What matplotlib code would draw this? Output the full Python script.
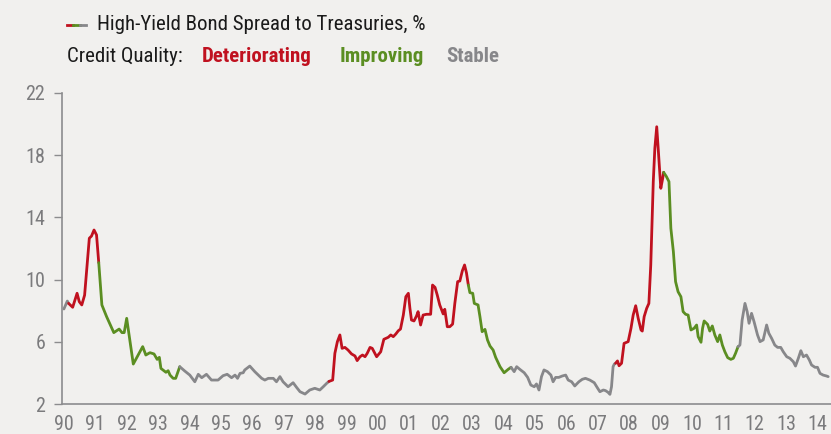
import matplotlib
matplotlib.use("Agg")
import matplotlib.pyplot as plt
from matplotlib.lines import Line2D
import numpy as np

# high-yield spread (decimal year, %)
dates = [
    1990.00, 1990.11, 1990.15, 1990.28, 1990.42, 1990.49, 1990.57, 1990.66, 1990.81, 1990.88,
    1990.96, 1991.04, 1991.11, 1991.21, 1991.36, 1991.59, 1991.76, 1991.85, 1991.92, 1992.00,
    1992.21, 1992.51, 1992.61, 1992.74, 1992.87, 1992.97, 1993.04, 1993.09, 1993.25, 1993.32,
    1993.38, 1993.48, 1993.56, 1993.69, 1993.85, 1994.01, 1994.17, 1994.28, 1994.39, 1994.54,
    1994.70, 1994.91, 1995.07, 1995.20, 1995.34, 1995.45, 1995.53, 1995.61, 1995.71, 1995.76,
    1995.92, 1996.08, 1996.30, 1996.40, 1996.51, 1996.67, 1996.77, 1996.88, 1996.98, 1997.14,
    1997.30, 1997.41, 1997.52, 1997.68, 1997.83, 1997.99, 1998.15, 1998.26, 1998.37, 1998.44,
    1998.56, 1998.63, 1998.71, 1998.79, 1998.86, 1998.95, 1999.05, 1999.16, 1999.27, 1999.34,
    1999.43, 1999.51, 1999.59, 1999.66, 1999.75, 1999.82, 1999.96, 2000.09, 2000.19, 2000.33,
    2000.41, 2000.49, 2000.57, 2000.65, 2000.72, 2000.81, 2000.89, 2000.97, 2001.02, 2001.07,
    2001.15, 2001.23, 2001.28, 2001.36, 2001.44, 2001.55, 2001.68, 2001.74, 2001.82, 2001.89,
    2001.97, 2002.08, 2002.13, 2002.21, 2002.29, 2002.38, 2002.45, 2002.54, 2002.61, 2002.69,
    2002.76, 2002.82, 2002.88, 2002.93, 2003.02, 2003.07, 2003.19, 2003.25, 2003.32, 2003.41,
    2003.49, 2003.57, 2003.67, 2003.75, 2003.89, 2004.02, 2004.15, 2004.24, 2004.34, 2004.42,
    2004.52, 2004.66, 2004.77, 2004.87, 2004.98, 2005.05, 2005.13, 2005.21, 2005.29, 2005.40,
    2005.51, 2005.58, 2005.66, 2005.76, 2005.87, 2005.98, 2006.06, 2006.17, 2006.27, 2006.40,
    2006.51, 2006.61, 2006.75, 2006.89, 2007.00, 2007.07, 2007.18, 2007.25, 2007.33, 2007.39,
    2007.44, 2007.49, 2007.53, 2007.57, 2007.63, 2007.68, 2007.76, 2007.84, 2007.97, 2008.06,
    2008.13, 2008.21, 2008.29, 2008.38, 2008.42, 2008.48, 2008.56, 2008.63, 2008.69, 2008.77,
    2008.82, 2008.88, 2008.93, 2009.01, 2009.07, 2009.10, 2009.19, 2009.27, 2009.33, 2009.41,
    2009.48, 2009.56, 2009.65, 2009.72, 2009.80, 2009.88, 2009.97, 2010.07, 2010.15, 2010.20,
    2010.29, 2010.34, 2010.39, 2010.50, 2010.57, 2010.65, 2010.73, 2010.82, 2010.89, 2010.97,
    2011.05, 2011.14, 2011.24, 2011.32, 2011.39, 2011.47, 2011.53, 2011.60, 2011.69, 2011.76,
    2011.82, 2011.90, 2011.98, 2012.09, 2012.17, 2012.27, 2012.32, 2012.38, 2012.45, 2012.54,
    2012.64, 2012.73, 2012.83, 2012.91, 2013.02, 2013.12, 2013.23, 2013.30, 2013.39, 2013.47,
    2013.55, 2013.65, 2013.74, 2013.81, 2013.92, 2014.00, 2014.08, 2014.18, 2014.29, 2014.34,
]
spreads = [
    8.11, 8.62, 8.47, 8.22, 9.12, 8.58, 8.37, 9.00, 12.66, 12.80,
    13.19, 12.87, 11.09, 8.37, 7.62, 6.59, 6.82, 6.59, 6.59, 7.51,
    4.57, 5.69, 5.15, 5.30, 5.22, 4.87, 5.00, 4.29, 4.04, 4.14,
    3.86, 3.65, 3.65, 4.40, 4.12, 3.86, 3.43, 3.91, 3.69, 3.91,
    3.54, 3.54, 3.82, 3.91, 3.69, 3.86, 3.65, 3.97, 4.01, 4.19,
    4.44, 4.08, 3.65, 3.54, 3.65, 3.65, 3.43, 3.76, 3.43, 3.11,
    3.37, 3.07, 2.79, 2.64, 2.90, 3.01, 2.90, 3.11, 3.33, 3.45,
    3.54, 5.26, 6.01, 6.44, 5.58, 5.64, 5.47, 5.22, 5.09, 4.79,
    5.04, 5.15, 5.04, 5.26, 5.64, 5.58, 5.04, 5.36, 6.16, 6.29,
    6.44, 6.33, 6.50, 6.71, 6.82, 7.72, 8.90, 9.12, 8.15, 7.40,
    7.34, 7.66, 7.94, 7.08, 7.72, 7.77, 7.77, 9.65, 9.50, 9.01,
    8.37, 7.79, 8.09, 6.97, 6.97, 7.14, 8.47, 9.87, 9.91, 10.57,
    10.94, 10.44, 9.65, 9.16, 9.12, 8.47, 8.37, 7.62, 6.65, 6.80,
    6.12, 5.73, 5.47, 5.00, 4.40, 4.01, 4.23, 4.36, 4.08, 4.40,
    4.23, 4.01, 3.71, 3.22, 3.11, 3.29, 2.90, 3.76, 4.19, 4.08,
    3.86, 3.43, 3.71, 3.71, 3.80, 3.86, 3.54, 3.43, 3.16, 3.43,
    3.59, 3.65, 3.54, 3.37, 3.01, 2.79, 2.90, 2.86, 2.75, 2.62,
    3.11, 4.40, 4.57, 4.62, 4.77, 4.46, 4.62, 5.90, 6.01, 6.87,
    7.72, 8.32, 7.51, 6.76, 6.69, 7.62, 8.15, 8.47, 10.94, 16.30,
    18.44, 19.83, 18.33, 15.87, 16.51, 16.90, 16.62, 16.30, 13.30, 11.80,
    9.87, 9.22, 8.90, 7.94, 7.77, 7.72, 6.76, 6.87, 7.08, 6.33,
    5.97, 6.87, 7.34, 7.12, 6.69, 7.02, 6.44, 6.01, 6.44, 5.79,
    5.36, 4.98, 4.87, 4.94, 5.26, 5.69, 5.79, 7.40, 8.47, 7.94,
    7.19, 7.83, 7.29, 6.44, 6.01, 6.12, 6.55, 7.08, 6.55, 6.22,
    5.79, 5.64, 5.64, 5.36, 5.04, 4.94, 4.72, 4.44, 4.94, 5.43,
    5.04, 5.15, 4.83, 4.51, 4.36, 4.36, 3.97, 3.86, 3.80, 3.76,
]

# credit quality regimes: start date of each
regime_starts = [1990.00, 1990.15, 1991.11, 1993.69, 1998.44, 2002.88, 2004.24, 2007.57, 2009.10, 2011.47]
regime_states = ["Stable", "Deteriorating", "Improving", "Stable", "Deteriorating",
                 "Improving", "Stable", "Deteriorating", "Improving", "Stable"]

year_ticks = list(range(1990, 2015))
year_labels = ["%02d" % (y % 100) for y in year_ticks]
y_ticks = [2, 6, 10, 14, 18, 22]

colors = {"Deteriorating": "#c0111f", "Improving": "#5b8e22", "Stable": "#87878a"}
bg = "#f1f0ee"
axis_gray = "#8c8c8e"
label_gray = "#7b7b7d"
plt.rcParams["font.family"] = ["Roboto Condensed", "Archivo Narrow", "DejaVu Sans"]

fig = plt.figure(figsize=(8.31, 4.34), dpi=100, facecolor=bg)
ax = fig.add_axes([62 / 831, 1 - 404 / 434, 1 - 62 / 831, (404 - 93) / 434])
ax.set_facecolor(bg)

d = np.array(dates)
s = np.array(spreads)
ends = regime_starts[1:] + [d.max() + 1]
for start, end, state in zip(regime_starts, ends, regime_states):
    m = (d >= start - 1e-9) & (d <= end + 1e-9)
    ax.plot(d[m], s[m], color=colors[state], lw=2.0, solid_joinstyle="round",
            solid_capstyle="round")

ax.set_xlim(1989.94, 2014.43)
ax.set_ylim(2, 22)
ax.set_yticks(y_ticks)
ax.set_xticks(year_ticks)
ax.set_xticklabels(year_labels)
for sp in ["top", "right"]:
    ax.spines[sp].set_visible(False)
for sp in ["left", "bottom"]:
    ax.spines[sp].set_color(axis_gray)
    ax.spines[sp].set_linewidth(1.2)
ax.tick_params(axis="y", length=5.5, width=1.0, color=axis_gray, labelcolor=label_gray,
               labelsize=14.5, pad=6.5)
ax.tick_params(axis="x", length=0, labelcolor=label_gray, labelsize=14.5, pad=8)

# legend at top
ly = 1 - 25 / 434
for x0, x1, c in [(67, 73, colors["Deteriorating"]), (73, 80, colors["Improving"]),
                  (80, 86, colors["Stable"])]:
    fig.add_artist(Line2D([x0 / 831, x1 / 831], [ly, ly], color=c, lw=2.0))
fig.text(97 / 831, ly, "High-Yield Bond Spread to Treasuries, %", fontsize=15,
         color="#1a1a1a", va="center", ha="left")
ly2 = 1 - 57 / 434
fig.text(67 / 831, ly2, "Credit Quality:", fontsize=15, color="#1a1a1a", va="center")
fig.text(202 / 831, ly2, "Deteriorating", fontsize=15, fontweight="bold",
         color=colors["Deteriorating"], va="center")
fig.text(340 / 831, ly2, "Improving", fontsize=15, fontweight="bold",
         color=colors["Improving"], va="center")
fig.text(446 / 831, ly2, "Stable", fontsize=15, fontweight="bold",
         color=colors["Stable"], va="center")

fig.savefig("out.png", dpi=100, facecolor=bg)
